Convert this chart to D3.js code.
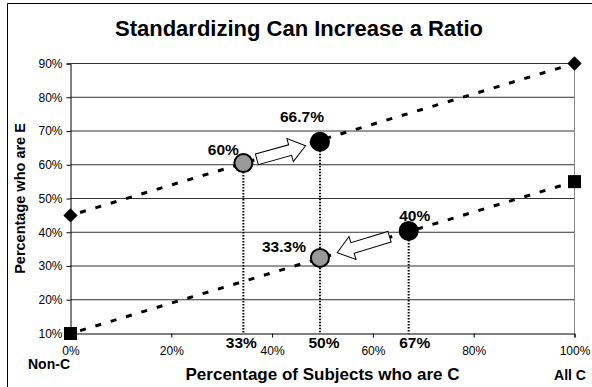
<!DOCTYPE html>
<html>
<head>
<meta charset="utf-8">
<script src="https://cdn.jsdelivr.net/npm/d3@7/dist/d3.min.js"></script>
<style>
  html, body { margin: 0; padding: 0; background: #fff; }
  svg { display: block; font-family: "Liberation Sans", Arial, sans-serif; }
</style>
</head>
<body>
<svg id="chart" width="592" height="387"></svg>
<script>
// ---- data ----
const title = "Standardizing Can Increase a Ratio";
const xTitle = "Percentage of Subjects who are C";
const yTitle = "Percentage who are E";
const xTicks = [0, 20, 40, 60, 80, 100];
const yTicks = [10, 20, 30, 40, 50, 60, 70, 80, 90];
const xEndLabels = ["Non-C", "All C"];
const upperLine = [[0, 45], [100, 90]];   // diamonds
const lowerLine = [[0, 10], [100, 55]];   // squares
const circleX = [34.3, 49.5, 49.5, 67.1];
const circleY = [60.5, 66.8, 32.4, 40.4];
const circleLabels = ["60%", "66.7%", "33.3%", "40%"];
const circleKind = ["gray", "black", "gray", "black"];
const dropFrom = [0, 1, 3];                 // circles with a dotted drop line
const dropLabels = ["33%", "50%", "67%"];
const arrows = [[0, 1], [3, 2]];            // from circle -> to circle

// ---- layout ----
const svg = d3.select("#chart");
const x = d3.scaleLinear([0, 100], [70.5, 574.5]);
const y = d3.scaleLinear([10, 90], [333.5, 63.5]);
const labelOffsets = [[-20, -8], [-18, -20], [-36, -6], [6, -10]];
const dropLabelDx = [-2, 4, 6];
const arrowInsets = [[14, 15], [20, 18]];

// outer border (cut at right/bottom)
svg.append("path").attr("d", "M7.5,387V3.5H592").attr("fill", "none").attr("stroke", "#000");

// title
svg.append("text").attr("x", 299).attr("y", 36).attr("text-anchor", "middle")
  .attr("font-size", 22).attr("font-weight", "bold").text(title);

// gridlines
svg.append("g").selectAll("line").data(yTicks.filter(t => t > 10)).join("line")
  .attr("x1", x(0)).attr("x2", x(100))
  .attr("y1", d => y(d)).attr("y2", d => y(d))
  .attr("stroke", "#333").attr("stroke-width", 1);

// right plot border
svg.append("line").attr("x1", x(100)).attr("x2", x(100)).attr("y1", y(90)).attr("y2", y(10))
  .attr("stroke", "#888");

// y axis
const yAxis = d3.axisLeft(y).tickValues(yTicks).tickSize(4).tickFormat(d => d + "%");
const gy = svg.append("g").attr("transform", `translate(${x(0)},0)`).call(yAxis);
gy.select(".domain").attr("stroke", "#000");
gy.selectAll("text").attr("font-size", 12).attr("fill", "#000")
  .attr("font-family", "'Liberation Sans', Arial, sans-serif").attr("dx", "-1");

// x axis
const xAxis = d3.axisBottom(x).tickValues(xTicks).tickSize(4).tickFormat(d => d + "%");
const gx = svg.append("g").attr("transform", `translate(0,${y(10)})`).call(xAxis);
gx.select(".domain").attr("stroke", "#000");
gx.selectAll("text").attr("font-size", 12).attr("fill", "#000")
  .attr("font-family", "'Liberation Sans', Arial, sans-serif")
  .attr("y", 0).attr("dy", 0).attr("transform", "translate(0,21.5)");

// axis titles
svg.append("text").attr("x", x(50)).attr("y", 380).attr("text-anchor", "middle")
  .attr("font-size", 17).attr("font-weight", "bold").text(xTitle);
svg.append("text").attr("transform", `translate(25,${(y(10) + y(90)) / 2}) rotate(-90)`)
  .attr("text-anchor", "middle").attr("font-size", 14.5).attr("font-weight", "bold").text(yTitle);
svg.append("text").attr("x", 49).attr("y", 369).attr("text-anchor", "middle")
  .attr("font-size", 14).attr("font-weight", "bold").text(xEndLabels[0]);
svg.append("text").attr("x", 570).attr("y", 380).attr("text-anchor", "middle")
  .attr("font-size", 14).attr("font-weight", "bold").text(xEndLabels[1]);

// dashed lines
const line = d3.line().x(d => x(d[0])).y(d => y(d[1]));
[upperLine, lowerLine].forEach(ln => {
  svg.append("path").attr("d", line(ln)).attr("fill", "none")
    .attr("stroke", "#000").attr("stroke-width", 3).attr("stroke-dasharray", "6,10")
    .attr("stroke-dashoffset", -10);
});

// end markers
svg.append("g").selectAll("path").data(upperLine).join("path")
  .attr("d", d3.symbol(d3.symbolDiamond2, 130)())
  .attr("transform", d => `translate(${x(d[0])},${y(d[1])})`).attr("fill", "#000");
svg.append("g").selectAll("rect").data(lowerLine).join("rect")
  .attr("x", d => x(d[0]) - 6.5).attr("y", d => y(d[1]) - 6.5)
  .attr("width", 13).attr("height", 13).attr("fill", "#000");

// dotted drop lines
svg.append("g").selectAll("line").data(dropFrom).join("line")
  .attr("x1", i => x(circleX[i])).attr("x2", i => x(circleX[i]))
  .attr("y1", i => y(circleY[i])).attr("y2", y(10))
  .attr("stroke", "#000").attr("stroke-width", 2).attr("stroke-dasharray", "1.5,1.5");

// drop labels
svg.append("g").selectAll("text").data(dropFrom).join("text")
  .attr("x", (i, k) => x(circleX[i]) + dropLabelDx[k]).attr("y", 348)
  .attr("text-anchor", "middle").attr("font-size", 15.5).attr("font-weight", "bold")
  .text((i, k) => dropLabels[k]);

// block arrows
const w = 5.5, h = 12, hl = 16;
arrows.forEach(([a, b], k) => {
  const x1 = x(circleX[a]), y1 = y(circleY[a]);
  const x2 = x(circleX[b]), y2 = y(circleY[b]);
  const dist = Math.hypot(x2 - x1, y2 - y1);
  const ang = Math.atan2(y2 - y1, x2 - x1) * 180 / Math.PI;
  const s = arrowInsets[k][0], L = dist - arrowInsets[k][0] - arrowInsets[k][1];
  const pts = [[0, -w], [L - hl, -w], [L - hl, -h], [L, 0], [L - hl, h], [L - hl, w], [0, w]];
  svg.append("path")
    .attr("d", "M" + pts.map(p => p.join(",")).join("L") + "Z")
    .attr("transform", `translate(${x1},${y1}) rotate(${ang}) translate(${s},0)`)
    .attr("fill", "#fff").attr("stroke", "#000").attr("stroke-width", 1);
});

// circles
svg.append("g").selectAll("circle").data(d3.range(circleX.length)).join("circle")
  .attr("cx", i => x(circleX[i])).attr("cy", i => y(circleY[i])).attr("r", 9)
  .attr("fill", i => circleKind[i] === "gray" ? "#999" : "#000")
  .attr("stroke", "#000").attr("stroke-width", 2);

// circle labels
svg.append("g").selectAll("text").data(d3.range(circleX.length)).join("text")
  .attr("x", i => x(circleX[i]) + labelOffsets[i][0])
  .attr("y", i => y(circleY[i]) + labelOffsets[i][1])
  .attr("text-anchor", "middle").attr("font-size", 15.5).attr("font-weight", "bold")
  .text(i => circleLabels[i]);
</script>
</body>
</html>
